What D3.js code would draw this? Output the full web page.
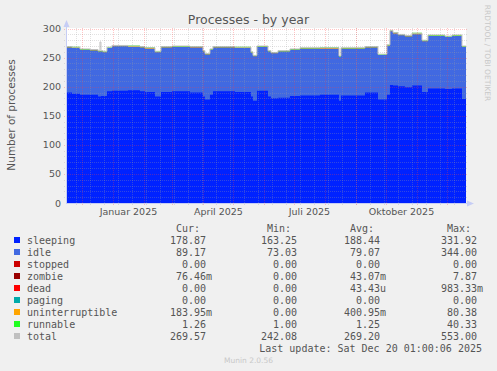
<!DOCTYPE html>
<html>
<head>
<meta charset="utf-8">
<script src="https://cdn.jsdelivr.net/npm/d3@7"></script>
<style>
  body { margin: 0; background: #f0f0f0; }
  svg { display: block; }
  text { fill: #555; font-family: "DejaVu Sans", sans-serif; }
  .mono { font-family: "DejaVu Sans Mono", monospace; font-size: 10px; }
</style>
</head>
<body>
<svg id="chart" width="497" height="371"></svg>
<script>
// breakpoints of the step series (value holds until next date)
var dates = ["2024-11-15","2024-11-21","2024-11-29","2024-12-09","2024-12-17","2024-12-19","2024-12-20","2024-12-22",
  "2024-12-26","2024-12-31","2025-01-16","2025-01-28","2025-02-02","2025-02-12","2025-02-18","2025-03-01",
  "2025-03-19","2025-04-01","2025-04-03","2025-04-08","2025-04-11","2025-05-03","2025-05-19","2025-05-21",
  "2025-05-25","2025-06-05","2025-06-08","2025-06-15","2025-06-27","2025-07-07","2025-07-27","2025-08-15",
  "2025-08-17","2025-09-10","2025-09-23","2025-10-02","2025-10-05","2025-10-08","2025-10-13","2025-10-20",
  "2025-10-27","2025-11-06","2025-11-12","2025-11-29","2025-12-06","2025-12-16"];
var sleeping = [190,188,186,186,183,183,184,184,192,193,194,192,191,183,191,192,
  190,183,178,186,192,191,183,176,193,183,180,181,184,185,186,176,
  185,190,178,186,203,202,201,199,202,191,197,196,197,179];
var idle = [77.4,78.4,77.4,76.4,77.4,77.4,76.4,75.4,74.4,76.4,74.4,75.4,74.4,76.4,76.4,76.4,
  77.4,77.4,77.4,77.4,75.4,75.4,75.4,76.4,75.4,77.4,77.4,79.4,79.4,80.4,79.4,75.4,
  80.4,77.4,76.4,84.4,92.4,89.4,87.4,87.4,88.4,87.4,90.4,89.4,90.4,89.4];
var uninterruptible = [0.3,1.0,0.3,0.3,0.3,0.3,0.3,0.3,0.3,0.3,1.2,0.3,1.0,0.3,0.3,0.3,
  1.0,0.3,0.3,0.3,0.3,1.0,0.3,0.3,0.3,0.3,1.2,0.3,0.3,0.3,1.0,0.3,
  0.3,0.3,0.3,0.3,0.3,1.0,0.3,0.3,1.0,0.3,0.3,0.3,0.3,0.3];
var runnable = [1.3,1.3,1.3,1.3,1.3,1.3,1.3,1.3,1.3,1.3,1.3,1.3,1.3,1.3,1.3,1.3,
  1.3,1.3,1.3,1.3,1.3,1.3,1.3,1.3,1.3,1.3,1.3,1.3,1.3,1.3,1.3,1.3,
  1.3,1.3,1.3,1.3,1.3,1.3,1.3,1.3,1.3,1.3,1.3,1.3,1.3,1.3];
var total = [269,268,265,264,262,277,262,261,268,271,270,269,267,261,269,270,
  269,262,257,265,269,268,260,254,270,262,259,262,265,267,267,253,
  267,269,256,272,297,293,290,288,292,280,289,287,289,270];

var legendNames = ["sleeping","idle","stopped","zombie","dead","paging","uninterruptible","runnable","total"];
var legendColors = ["#0022ff","#4169e1","#cc0000","#990000","#ff0000","#00aaaa","#ffa500","#22ff22","#c0c0c0"];
var curVals = ["178.87","89.17","0.00","76.46m","0.00","0.00","183.95m","1.26","269.57"];
var minVals = ["163.25","73.03","0.00","0.00","0.00","0.00","0.00","1.00","242.08"];
var avgVals = ["188.44","79.07","0.00","43.07m","43.43u","0.00","400.95m","1.25","269.20"];
var maxVals = ["331.92","344.00","0.00","7.87","983.33m","0.00","80.38","40.33","553.00"];

var yTicks = [0, 50, 100, 150, 200, 250, 300];
var monthLabels = ["2025-01-01","2025-04-01","2025-07-01","2025-10-01"];
var monthNames = ["Januar 2025","April 2025","Juli 2025","Oktober 2025"];

var startTime = new Date(2024, 10, 15, 1, 0, 6);
var endTime = new Date(2025, 11, 20, 1, 0, 6);
var minorGridStart = new Date(2024, 10, 25);

var parse = d3.timeParse("%Y-%m-%d");
var svg = d3.select("#chart");

var x = d3.scaleTime().domain([startTime, endTime]).range([66, 466]);
var y = d3.scaleLinear().domain([0, 301]).range([203, 28]);

// plot background
svg.append("rect").attr("x", 66).attr("y", 28).attr("width", 400).attr("height", 175).attr("fill", "#fff");

var rows = dates.map(function(d, i) {
  return { date: parse(d), sleeping: sleeping[i], idle: idle[i],
    uninterruptible: uninterruptible[i], runnable: runnable[i], total: total[i] };
});
rows[0].date = startTime;
rows.push(Object.assign({}, rows[rows.length - 1], { date: endTime }));

var keys = ["sleeping", "idle", "uninterruptible", "runnable"];
var keyColors = { sleeping: "#0022ff", idle: "#4169e1", uninterruptible: "#ffa500", runnable: "#22ff22" };
var stacked = d3.stack().keys(keys)(rows);

// draw each layer from the baseline, topmost first, so no seams show
stacked.slice().reverse().forEach(function(layer) {
  var area = d3.area()
    .curve(d3.curveStepAfter)
    .x(function(d) { return x(d.data.date); })
    .y0(y(0))
    .y1(function(d) { return y(d[1]); });
  svg.append("path").datum(layer).attr("d", area).attr("fill", keyColors[layer.key]);
});

var totalLine = d3.line()
  .curve(d3.curveStepAfter)
  .x(function(d) { return x(d.date); })
  .y(function(d) { return y(d.total); });
svg.append("path").datum(rows).attr("d", totalLine)
  .attr("fill", "none").attr("stroke", "#c0c0c0").attr("stroke-width", 1);

// grid on top
var grid = svg.append("g").attr("fill", "none").attr("stroke-dasharray", "1,1");
d3.range(10, 301, 10).forEach(function(v) {
  var major = v % 50 === 0;
  var yy = Math.round(y(v)) + 0.5;
  grid.append("line").attr("x1", 64).attr("x2", 468).attr("y1", yy).attr("y2", yy)
    .attr("stroke", major ? "#ff4040" : "#a0a0a0")
    .attr("stroke-opacity", major ? 0.3 : 0.3);
});
d3.timeDay.range(minorGridStart, endTime, 14).forEach(function(d) {
  var xx = Math.round(x(d)) + 0.5;
  grid.append("line").attr("x1", xx).attr("x2", xx).attr("y1", 28).attr("y2", 205)
    .attr("stroke", "#a0a0a0").attr("stroke-opacity", 0.3);
});
d3.timeMonth.range(d3.timeMonth.ceil(startTime), endTime).forEach(function(d) {
  var xx = Math.round(x(d)) + 0.5;
  grid.append("line").attr("x1", xx).attr("x2", xx).attr("y1", 28).attr("y2", 205)
    .attr("stroke", "#ff4040").attr("stroke-opacity", 0.3);
});

// axes
var axisColor = "#c6cdf5";
svg.append("line").attr("x1", 66.5).attr("x2", 66.5).attr("y1", 24).attr("y2", 203)
  .attr("stroke", axisColor);
svg.append("line").attr("x1", 66).attr("x2", 470).attr("y1", 203.5).attr("y2", 203.5)
  .attr("stroke", axisColor);
svg.append("path").attr("d", "M63.5,27 L66.5,20 L69.5,27 Z").attr("fill", axisColor);
svg.append("path").attr("d", "M467,200.5 L474,203.5 L467,206.5 Z").attr("fill", axisColor);

svg.selectAll(".ytick").data(yTicks).enter().append("text")
  .attr("x", 61).attr("y", function(d) { return y(d) + 3.5; })
  .attr("text-anchor", "end").attr("font-size", "9.5px")
  .text(function(d) { return d; });

svg.selectAll(".xlab").data(monthLabels).enter().append("text")
  .attr("x", function(d) { return x(d3.timeHour.offset(parse(d), 372)); })
  .attr("y", 215).attr("text-anchor", "middle").attr("font-size", "9.5px")
  .text(function(d, i) { return monthNames[i]; });

// titles
svg.append("text").attr("x", 248.5).attr("y", 24).attr("text-anchor", "middle")
  .attr("font-size", "12.5px").text("Processes - by year");
svg.append("text").attr("transform", "translate(15,115) rotate(-90)")
  .attr("text-anchor", "middle").attr("font-size", "10.5px").text("Number of processes");
svg.append("text").attr("transform", "translate(485,53) rotate(90)")
  .attr("text-anchor", "middle").attr("font-size", "7.5px").style("fill", "#c8c8c8")
  .text("RRDTOOL / TOBI OETIKER");

// legend
var colRight = [206, 297, 380, 477];
["Cur:", "Min:", "Avg:", "Max:"].forEach(function(h, i) {
  svg.append("text").attr("class", "mono").attr("x", colRight[i] - 6).attr("y", 231.5)
    .attr("text-anchor", "end").text(h);
});
var legend = svg.selectAll(".leg").data(legendNames).enter().append("g")
  .attr("transform", function(d, i) { return "translate(0," + (240 + i * 12) + ")"; });
legend.append("rect").attr("x", 14).attr("y", -3).attr("width", 6).attr("height", 6)
  .attr("fill", function(d, i) { return legendColors[i]; });
legend.append("text").attr("class", "mono").attr("x", 27).attr("y", 3.5)
  .text(function(d) { return d; });
[curVals, minVals, avgVals, maxVals].forEach(function(vals, c) {
  legend.append("text").attr("class", "mono").attr("x", colRight[c]).attr("y", 3.5)
    .attr("text-anchor", "end")
    .text(function(d, i) { return vals[i].replace(/[mu]$/, ""); });
  legend.append("text").attr("class", "mono").attr("x", colRight[c]).attr("y", 3.5)
    .text(function(d, i) { var m = vals[i].match(/[mu]$/); return m ? m[0] : ""; });
});
svg.append("text").attr("class", "mono").attr("x", 482).attr("y", 351.5)
  .attr("text-anchor", "end").text("Last update: Sat Dec 20 01:00:06 2025");
svg.append("text").attr("x", 248.5).attr("y", 362.5).attr("text-anchor", "middle")
  .attr("font-size", "7.5px").style("fill", "#c8c8c8").text("Munin 2.0.56");
</script>
</body>
</html>
